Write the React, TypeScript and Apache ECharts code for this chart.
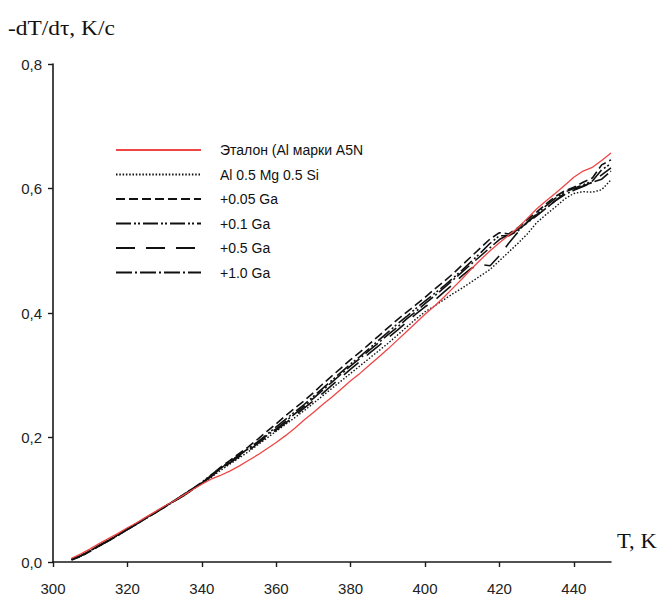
import React, { useEffect, useRef } from 'react';
import * as echarts from 'echarts';

const temps = [
  305, 307.5, 310, 312.5, 315, 317.5, 320, 322.5, 325, 327.5,
  330, 332.5, 335, 337.5, 340, 342.5, 345, 347.5, 350, 352.5,
  355, 357.5, 360, 362.5, 365, 367.5, 370, 372.5, 375, 377.5,
  380, 382.5, 385, 387.5, 390, 392.5, 395, 397.5, 400, 402.5,
  405, 407.5, 410, 412.5, 415, 417.5, 420, 422.5, 425, 427.5,
  430, 432.5, 435, 437.5, 440, 442.5, 445, 447.5, 450,
];

const etalon = [
  0.006, 0.013, 0.021, 0.030, 0.038, 0.046, 0.055, 0.063, 0.072, 0.081,
  0.090, 0.098, 0.107, 0.116, 0.125, 0.133, 0.139, 0.146, 0.154, 0.163,
  0.172, 0.182, 0.192, 0.203, 0.215, 0.228, 0.240, 0.253, 0.265, 0.278,
  0.291, 0.303, 0.316, 0.329, 0.342, 0.356, 0.370, 0.384, 0.398, 0.411,
  0.425, 0.440, 0.455, 0.471, 0.486, 0.500, 0.513, 0.525, 0.537, 0.552,
  0.567, 0.580, 0.592, 0.605, 0.618, 0.628, 0.634, 0.645, 0.657,
];

const alMgSi = [
  0.004, 0.010, 0.018, 0.026, 0.034, 0.043, 0.052, 0.061, 0.070, 0.079,
  0.088, 0.097, 0.106, 0.116, 0.126, 0.136, 0.147, 0.157, 0.167, 0.177,
  0.188, 0.199, 0.210, 0.221, 0.232, 0.243, 0.255, 0.267, 0.279, 0.291,
  0.303, 0.315, 0.327, 0.339, 0.351, 0.364, 0.377, 0.390, 0.402, 0.411,
  0.421, 0.431, 0.440, 0.450, 0.460, 0.470, 0.484, 0.498, 0.512, 0.527,
  0.545, 0.558, 0.570, 0.583, 0.592, 0.595, 0.594, 0.598, 0.614,
];

const ga005 = [
  0.003, 0.009, 0.017, 0.026, 0.035, 0.043, 0.052, 0.061, 0.070, 0.079,
  0.089, 0.098, 0.107, 0.117, 0.127, 0.139, 0.152, 0.163, 0.174, 0.185,
  0.197, 0.210, 0.222, 0.235, 0.247, 0.259, 0.272, 0.286, 0.299, 0.312,
  0.325, 0.337, 0.350, 0.363, 0.376, 0.389, 0.401, 0.413, 0.425, 0.438,
  0.450, 0.463, 0.477, 0.491, 0.505, 0.519, 0.529, 0.527, 0.537, 0.550,
  0.562, 0.575, 0.587, 0.596, 0.602, 0.610, 0.617, 0.638, 0.646,
];

const ga01 = [
  0.004, 0.010, 0.018, 0.027, 0.035, 0.044, 0.053, 0.062, 0.071, 0.080,
  0.089, 0.098, 0.108, 0.118, 0.128, 0.140, 0.151, 0.161, 0.171, 0.182,
  0.193, 0.205, 0.217, 0.229, 0.241, 0.253, 0.266, 0.279, 0.292, 0.305,
  0.318, 0.330, 0.343, 0.356, 0.369, 0.382, 0.394, 0.407, 0.419, 0.431,
  0.443, 0.456, 0.469, 0.483, 0.497, 0.512, 0.524, 0.524, 0.532, 0.546,
  0.559, 0.572, 0.584, 0.594, 0.600, 0.606, 0.612, 0.630, 0.640,
];

const ga05 = [
  0.004, 0.010, 0.018, 0.026, 0.034, 0.043, 0.052, 0.061, 0.070, 0.079,
  0.088, 0.097, 0.106, 0.116, 0.126, 0.137, 0.149, 0.159, 0.169, 0.179,
  0.190, 0.201, 0.212, 0.223, 0.235, 0.247, 0.259, 0.271, 0.284, 0.297,
  0.310, 0.322, 0.335, 0.347, 0.360, 0.372, 0.385, 0.398, 0.410, 0.420,
  0.433, 0.446, 0.460, 0.472, 0.478, 0.476, 0.492, 0.512, 0.530, 0.546,
  0.558, 0.568, 0.580, 0.592, 0.598, 0.604, 0.610, 0.622, 0.633,
];

const ga10 = [
  0.004, 0.010, 0.018, 0.027, 0.035, 0.044, 0.053, 0.062, 0.071, 0.080,
  0.089, 0.098, 0.108, 0.117, 0.127, 0.138, 0.150, 0.161, 0.172, 0.182,
  0.192, 0.203, 0.214, 0.226, 0.238, 0.250, 0.263, 0.276, 0.289, 0.302,
  0.315, 0.327, 0.340, 0.352, 0.365, 0.377, 0.390, 0.402, 0.415, 0.427,
  0.440, 0.453, 0.466, 0.479, 0.492, 0.505, 0.518, 0.526, 0.534, 0.545,
  0.556, 0.568, 0.580, 0.590, 0.597, 0.603, 0.610, 0.615, 0.628,
];

const seriesNames = [
  'Эталон (Al марки A5N',
  'Al 0.5 Mg 0.5 Si',
  '+0.05 Ga',
  '+0.1 Ga',
  '+0.5 Ga',
  '+1.0 Ga',
];
const seriesValues = [etalon, alMgSi, ga005, ga01, ga05, ga10];

const xTicks = [300, 320, 340, 360, 380, 400, 420, 440];
const yTitle = '-dT/dτ, K/c';
const xTitle = 'T, K';

const styles: { color: string; width: number; type: any }[] = [
  { color: '#f04545', width: 1.3, type: 'solid' },
  { color: '#111111', width: 1.4, type: [1.5, 1.8] },
  { color: '#111111', width: 1.6, type: [9, 4] },
  { color: '#111111', width: 1.6, type: [15, 3, 2, 2, 2, 3] },
  { color: '#111111', width: 1.6, type: [19, 11] },
  { color: '#111111', width: 1.6, type: [16, 3, 2, 3] },
];

export default function App() {
  const ref = useRef<HTMLDivElement>(null);
  useEffect(() => {
    const chart = echarts.init(ref.current!, null, { renderer: 'svg' });
    const sans = 'Liberation Sans, Arial, sans-serif';
    const serif = 'Liberation Serif, Times New Roman, serif';
    chart.setOption({
      animation: false,
      backgroundColor: '#ffffff',
      grid: { left: 53, right: 48, top: 64, bottom: 34, containLabel: false },
      legend: {
        orient: 'vertical',
        left: 115,
        top: 143,
        padding: 0,
        itemWidth: 85,
        itemHeight: 14,
        itemGap: 10.5,
        data: seriesNames,
        itemStyle: { opacity: 0 },
        textStyle: { fontFamily: sans, fontSize: 14, color: '#111', padding: [0, 0, 0, 14] },
      },
      xAxis: {
        type: 'value',
        min: 300,
        max: 450,
        interval: 20,
        splitLine: { show: false },
        axisLine: { show: true, lineStyle: { color: '#1a1a1a', width: 1.6 } },
        axisTick: { show: true, length: 5, customValues: xTicks, lineStyle: { color: '#1a1a1a', width: 1.4 } },
        axisLabel: { customValues: xTicks, fontFamily: sans, fontSize: 15, color: '#222', margin: 19 },
      },
      yAxis: {
        type: 'value',
        min: 0,
        max: 0.8,
        interval: 0.2,
        splitLine: { show: false },
        axisLine: { show: true, lineStyle: { color: '#1a1a1a', width: 1.6 } },
        axisTick: { show: true, length: 5, lineStyle: { color: '#1a1a1a', width: 1.4 } },
        axisLabel: {
          fontFamily: sans,
          fontSize: 15,
          color: '#222',
          margin: 11,
          formatter: (v: number) => v.toFixed(1).replace('.', ','),
        },
      },
      graphic: [
        {
          type: 'text',
          x: 8,
          y: 19,
          scaleX: 1.17,
          style: { text: yTitle, font: `20px ${serif}`, fill: '#111' },
        },
        {
          type: 'text',
          x: 617,
          y: 531,
          scaleX: 1.13,
          style: { text: xTitle, font: `20px ${serif}`, fill: '#111' },
        },
      ],
      series: seriesNames.map((name, k) => ({
        name,
        type: 'line',
        symbol: 'none',
        showSymbol: false,
        data: temps.map((t, i) => [t, seriesValues[k][i]]),
        lineStyle: { color: styles[k].color, width: styles[k].width, type: styles[k].type },
        itemStyle: { color: styles[k].color },
        z: k === 0 ? 3 : 2,
      })),
    });
    return () => chart.dispose();
  }, []);
  return (
    <div
      ref={ref}
      style={{ position: 'fixed', left: 0, top: 0, width: 659, height: 596, background: '#fff' }}
    />
  );
}
